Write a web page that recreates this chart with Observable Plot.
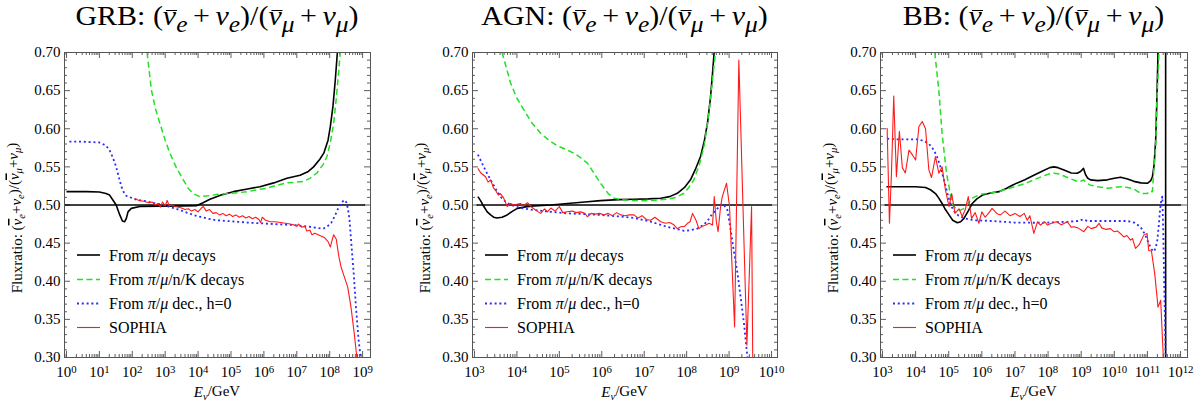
<!DOCTYPE html>
<html><head><meta charset="utf-8">
<script src="https://cdn.jsdelivr.net/npm/d3@7"></script>
<script src="https://cdn.jsdelivr.net/npm/@observablehq/plot@0.6"></script>
<style>
body{margin:0;background:#fff;}
#wrap{position:relative;width:1202px;height:409px;overflow:hidden;font-family:"Liberation Serif",serif;}
.panel{position:absolute;top:0;height:409px;}
.title{position:absolute;top:3px;height:40px;white-space:nowrap;font-size:27px;line-height:27px;text-align:center;color:#000;font-family:"Liberation Serif",serif;transform:scaleX(1.11);transform-origin:50% 50%;}
.title sub{font-size:0.85em;vertical-align:-0.3em;line-height:0;}
.title .op{margin:0 5px;}
.ob{position:relative;}
.ob::before{content:"";position:absolute;left:0.1em;right:-0.04em;top:0.32em;border-top:1.4px solid #000;}
.panel svg{position:absolute;top:42px;left:0;}
</style></head>
<body><div id="wrap"></div>
<script>
// ---- tick values ----
const yTicks = [0.30, 0.35, 0.40, 0.45, 0.50, 0.55, 0.60, 0.65, 0.70];
const grbDecades = [0, 1, 2, 3, 4, 5, 6, 7, 8, 9];
const agnDecades = [3, 4, 5, 6, 7, 8, 9, 10];
const bbDecades = [3, 4, 5, 6, 7, 8, 9, 10, 11, 12];
const panelNames = ["GRB", "AGN", "BB"];
const legendLabels = ["From π/μ decays", "From π/μ/n/K decays", "From π/μ dec., h=0", "SOPHIA"];

// ---- series: [log10(E/GeV), flux ratio] ----
const grbBlack = [[0,0.5175],[0.6,0.5175],[1.0,0.517],[1.1,0.516],[1.2,0.515],[1.31,0.513],[1.41,0.5066],[1.51,0.500],[1.62,0.487],[1.70,0.479],[1.77,0.478],[1.82,0.4825],[1.87,0.491],[1.97,0.4956],[2.23,0.498],[2.84,0.4985],[3.5,0.4988],[3.95,0.499],[4.15,0.503],[4.36,0.5075],[4.7,0.513],[5.07,0.5175],[5.5,0.521],[5.88,0.524],[6.3,0.529],[6.7,0.535],[7.1,0.539],[7.35,0.544],[7.51,0.550],[7.7,0.560],[7.82,0.568],[7.95,0.585],[8.02,0.603],[8.1,0.630],[8.17,0.664],[8.24,0.704],[8.3,0.75]];
const grbGreen = [[2.38,0.75],[2.45,0.70],[2.58,0.651],[2.7,0.627],[2.84,0.607],[3.0,0.585],[3.14,0.568],[3.35,0.548],[3.55,0.533],[3.7,0.522],[3.85,0.515],[4.05,0.511],[4.3,0.512],[4.6,0.514],[4.87,0.515],[5.2,0.516],[5.48,0.5175],[5.8,0.520],[6.09,0.522],[6.4,0.526],[6.7,0.529],[7.0,0.530],[7.2,0.531],[7.4,0.535],[7.61,0.542],[7.8,0.553],[7.92,0.564],[8.02,0.582],[8.12,0.607],[8.2,0.640],[8.27,0.673],[8.32,0.70],[8.38,0.75]];
const grbBlue = [[0.09,0.583],[0.5,0.583],[1.0,0.582],[1.2,0.578],[1.31,0.572],[1.42,0.561],[1.51,0.550],[1.6,0.535],[1.67,0.524],[1.75,0.516],[1.82,0.512],[2.0,0.509],[2.12,0.507],[2.4,0.505],[2.6,0.503],[2.84,0.501],[3.1,0.498],[3.34,0.495],[3.6,0.491],[3.85,0.487],[4.05,0.4846],[4.3,0.482],[4.56,0.480],[4.87,0.479],[5.2,0.478],[5.5,0.477],[5.88,0.476],[6.3,0.475],[6.9,0.4737],[7.3,0.472],[7.6,0.470],[7.8,0.469],[7.92,0.4714],[8.05,0.477],[8.15,0.485],[8.25,0.495],[8.35,0.503],[8.45,0.5066],[8.5,0.504],[8.55,0.496],[8.6,0.482],[8.66,0.448],[8.73,0.41],[8.8,0.365],[8.88,0.322],[8.95,0.298]];
const grbRed = [[2.07,0.509],[2.2,0.506],[2.35,0.505],[2.5,0.503],[2.6,0.504],[2.7,0.500],[2.78,0.502],[2.85,0.497],[2.92,0.504],[3.0,0.499],[3.06,0.506],[3.12,0.499],[3.2,0.500],[3.3,0.498],[3.4,0.497],[3.5,0.496],[3.6,0.494],[3.7,0.495],[3.8,0.492],[3.9,0.494],[4.0,0.491],[4.1,0.496],[4.16,0.498],[4.25,0.492],[4.35,0.494],[4.45,0.489],[4.55,0.490],[4.65,0.487],[4.75,0.489],[4.85,0.486],[4.95,0.488],[5.05,0.485],[5.15,0.487],[5.25,0.484],[5.35,0.486],[5.45,0.483],[5.55,0.485],[5.65,0.482],[5.75,0.484],[5.85,0.481],[5.9,0.477],[5.95,0.484],[6.05,0.480],[6.2,0.478],[6.35,0.478],[6.5,0.477],[6.65,0.476],[6.8,0.475],[6.9,0.474],[7.0,0.472],[7.05,0.475],[7.15,0.471],[7.25,0.472],[7.3,0.466],[7.4,0.467],[7.46,0.461],[7.55,0.463],[7.65,0.461],[7.75,0.459],[7.85,0.457],[7.95,0.452],[8.02,0.445],[8.08,0.455],[8.12,0.461],[8.2,0.455],[8.28,0.432],[8.35,0.418],[8.45,0.405],[8.55,0.392],[8.65,0.365],[8.75,0.33],[8.83,0.298]];

const agnBlack = [[3.08,0.511],[3.15,0.505],[3.22,0.498],[3.3,0.491],[3.38,0.487],[3.45,0.484],[3.53,0.483],[3.65,0.484],[3.77,0.487],[3.9,0.492],[4.01,0.4956],[4.2,0.4975],[4.4,0.4987],[4.8,0.500],[5.19,0.502],[5.6,0.504],[5.97,0.5057],[6.4,0.507],[6.76,0.5075],[7.1,0.508],[7.39,0.5088],[7.6,0.511],[7.78,0.5154],[7.95,0.523],[8.09,0.533],[8.2,0.546],[8.33,0.564],[8.42,0.585],[8.49,0.607],[8.56,0.640],[8.61,0.673],[8.65,0.702],[8.7,0.75]];
const agnGreen = [[3.6,0.75],[3.65,0.70],[3.75,0.68],[3.85,0.66],[4.0,0.64],[4.16,0.625],[4.35,0.608],[4.56,0.594],[4.75,0.585],[4.95,0.5776],[5.15,0.573],[5.34,0.568],[5.5,0.562],[5.66,0.555],[5.8,0.543],[5.97,0.5285],[6.15,0.515],[6.29,0.509],[6.44,0.507],[6.7,0.506],[6.92,0.5057],[7.2,0.506],[7.54,0.5075],[7.75,0.510],[7.94,0.5154],[8.05,0.523],[8.17,0.533],[8.3,0.553],[8.41,0.577],[8.5,0.610],[8.57,0.643],[8.63,0.675],[8.68,0.70],[8.72,0.75]];
const agnBlue = [[3.08,0.566],[3.15,0.558],[3.22,0.550],[3.3,0.541],[3.38,0.533],[3.5,0.521],[3.61,0.511],[3.72,0.505],[3.85,0.500],[4.1,0.496],[4.4,0.4934],[4.8,0.491],[5.19,0.489],[5.6,0.488],[5.97,0.487],[6.4,0.485],[6.76,0.483],[7.1,0.479],[7.54,0.4714],[7.8,0.468],[7.94,0.4662],[8.1,0.467],[8.25,0.469],[8.4,0.474],[8.49,0.479],[8.6,0.488],[8.73,0.4956],[8.82,0.501],[8.88,0.500],[8.96,0.4934],[9.03,0.470],[9.11,0.440],[9.2,0.410],[9.27,0.380],[9.35,0.345],[9.43,0.302],[9.46,0.29]];
const agnRed = [[3.08,0.548],[3.15,0.542],[3.26,0.537],[3.32,0.530],[3.38,0.533],[3.45,0.522],[3.5,0.519],[3.56,0.513],[3.61,0.515],[3.68,0.510],[3.77,0.498],[3.85,0.502],[3.92,0.500],[4.0,0.501],[4.08,0.502],[4.15,0.499],[4.25,0.503],[4.35,0.497],[4.45,0.493],[4.56,0.489],[4.65,0.495],[4.72,0.491],[4.8,0.496],[4.9,0.492],[5.0,0.498],[5.08,0.490],[5.19,0.4912],[5.3,0.492],[5.4,0.490],[5.5,0.491],[5.6,0.489],[5.66,0.4846],[5.75,0.489],[5.85,0.488],[5.95,0.489],[6.05,0.487],[6.15,0.489],[6.25,0.486],[6.35,0.490],[6.45,0.487],[6.55,0.486],[6.65,0.487],[6.76,0.487],[6.85,0.483],[6.95,0.486],[7.05,0.481],[7.15,0.480],[7.25,0.484],[7.39,0.478],[7.5,0.476],[7.6,0.477],[7.7,0.474],[7.78,0.469],[7.86,0.4714],[7.95,0.472],[8.02,0.476],[8.08,0.478],[8.14,0.489],[8.22,0.480],[8.29,0.469],[8.37,0.472],[8.45,0.4737],[8.53,0.476],[8.61,0.4737],[8.65,0.511],[8.7,0.478],[8.74,0.465],[8.8,0.498],[8.84,0.511],[8.94,0.5285],[9.01,0.498],[9.13,0.340],[9.23,0.690],[9.42,0.316],[9.53,0.498],[9.56,0.28]];

const bbBlack = [[3.12,0.524],[3.5,0.524],[4.0,0.524],[4.3,0.523],[4.45,0.520],[4.6,0.515],[4.7,0.509],[4.8,0.502],[4.9,0.494],[5.01,0.487],[5.12,0.480],[5.26,0.4767],[5.36,0.478],[5.46,0.4825],[5.6,0.493],[5.71,0.502],[5.85,0.508],[6.02,0.513],[6.3,0.516],[6.52,0.5175],[6.75,0.522],[6.92,0.526],[7.07,0.529],[7.3,0.533],[7.57,0.539],[7.85,0.545],[8.05,0.549],[8.18,0.550],[8.3,0.549],[8.48,0.546],[8.7,0.542],[8.88,0.5417],[8.98,0.544],[9.07,0.548],[9.13,0.540],[9.2,0.535],[9.28,0.533],[9.5,0.532],[9.79,0.533],[10.0,0.535],[10.19,0.5365],[10.4,0.534],[10.59,0.531],[10.8,0.529],[11.0,0.5285],[11.1,0.532],[11.15,0.537],[11.2,0.552],[11.25,0.5855],[11.28,0.630],[11.32,0.700],[11.35,0.760],[11.55,5],[11.55,-5]];
const bbGreen = [[4.55,0.75],[4.58,0.70],[4.64,0.675],[4.70,0.651],[4.75,0.622],[4.80,0.594],[4.86,0.570],[4.91,0.5505],[4.96,0.535],[5.01,0.524],[5.06,0.511],[5.11,0.502],[5.16,0.498],[5.21,0.4956],[5.28,0.4934],[5.36,0.4934],[5.44,0.495],[5.51,0.498],[5.6,0.503],[5.71,0.509],[5.85,0.512],[6.02,0.5145],[6.3,0.516],[6.52,0.5175],[6.75,0.521],[7.07,0.525],[7.3,0.528],[7.57,0.533],[7.85,0.538],[8.05,0.541],[8.18,0.5417],[8.3,0.541],[8.48,0.538],[8.7,0.534],[8.88,0.531],[8.98,0.531],[9.07,0.533],[9.15,0.529],[9.28,0.526],[9.5,0.524],[9.79,0.522],[10.0,0.523],[10.19,0.524],[10.4,0.523],[10.59,0.521],[10.8,0.515],[11.0,0.515],[11.05,0.518],[11.15,0.5175],[11.2,0.550],[11.25,0.575],[11.28,0.630],[11.32,0.670],[11.35,0.700],[11.38,0.75]];
const bbBlue = [[3.14,0.587],[3.5,0.586],[4.1,0.586],[4.3,0.583],[4.45,0.578],[4.55,0.572],[4.65,0.563],[4.75,0.550],[4.83,0.537],[4.91,0.524],[4.98,0.512],[5.05,0.502],[5.13,0.494],[5.21,0.489],[5.3,0.486],[5.41,0.4838],[5.6,0.481],[5.81,0.480],[6.31,0.479],[6.98,0.477],[7.57,0.4767],[8.0,0.477],[8.58,0.478],[8.9,0.479],[9.05,0.481],[9.2,0.479],[9.6,0.479],[10.19,0.479],[10.39,0.479],[10.6,0.477],[10.79,0.4714],[10.92,0.462],[11.04,0.4496],[11.12,0.442],[11.2,0.439],[11.25,0.444],[11.30,0.454],[11.34,0.472],[11.38,0.4934],[11.42,0.507],[11.45,0.511],[11.48,0.460],[11.5,0.410],[11.53,0.350],[11.55,0.300],[11.56,0.28]];
const bbRed = [[3.14,0.601],[3.21,0.476],[3.27,0.540],[3.34,0.643],[3.42,0.537],[3.51,0.5965],[3.6,0.549],[3.69,0.542],[3.80,0.572],[3.9,0.566],[4.0,0.559],[4.10,0.603],[4.20,0.6096],[4.30,0.600],[4.40,0.546],[4.48,0.536],[4.60,0.5636],[4.70,0.5417],[4.80,0.550],[4.90,0.520],[5.01,0.498],[5.09,0.515],[5.19,0.489],[5.31,0.495],[5.41,0.485],[5.5,0.494],[5.59,0.511],[5.69,0.4825],[5.8,0.490],[5.91,0.476],[6.0,0.491],[6.1,0.484],[6.2,0.489],[6.31,0.4956],[6.45,0.489],[6.56,0.487],[6.7,0.492],[6.85,0.486],[7.0,0.489],[7.15,0.485],[7.28,0.489],[7.37,0.480],[7.45,0.486],[7.57,0.4627],[7.68,0.478],[7.77,0.4737],[7.9,0.478],[7.98,0.4737],[8.1,0.476],[8.25,0.478],[8.4,0.474],[8.58,0.478],[8.7,0.471],[8.78,0.4714],[8.9,0.470],[9.08,0.465],[9.2,0.472],[9.3,0.469],[9.45,0.471],[9.54,0.476],[9.62,0.470],[9.75,0.468],[9.88,0.469],[9.99,0.465],[10.09,0.466],[10.2,0.462],[10.29,0.458],[10.38,0.460],[10.49,0.454],[10.55,0.456],[10.64,0.443],[10.75,0.448],[10.89,0.4605],[10.99,0.4627],[11.04,0.440],[11.12,0.440],[11.22,0.410],[11.32,0.366],[11.40,0.375],[11.48,0.300],[11.5,0.28]];

// ---- styles ----
const styles = [
  {stroke: "#000", strokeWidth: 1.6},
  {stroke: "#22e022", strokeWidth: 1.5, strokeDasharray: "6,3.5"},
  {stroke: "#2a2aff", strokeWidth: 1.8, strokeDasharray: "2,2.8"},
  {stroke: "#ff1a1a", strokeWidth: 1.1}
];

const panels = [
  {name: panelNames[0], left: 0, width: 400, ml: 64, mr: 30, dom: [-0.06, 9.24], decades: grbDecades, hline: [-0.06, 9.09], series: [grbBlack, grbGreen, grbBlue, grbRed]},
  {name: panelNames[1], left: 400, width: 400, ml: 72, mr: 23, dom: [2.953, 10.141], decades: agnDecades, hline: [3.06, 10.02], series: [agnBlack, agnGreen, agnBlue, agnRed]},
  {name: panelNames[2], left: 800, width: 402, ml: 80, mr: 15, dom: [2.94, 12.21], decades: bbDecades, hline: [3.08, 12.03], series: [bbBlack, bbGreen, bbBlue, bbRed]}
];

const H = 367, MT = 10, MB = 52;
const FF = "'Liberation Serif', 'Times New Roman', serif";
const wrap = document.getElementById("wrap");

function addRich(sel, parts) {
  let shift = 0;
  for (const [t, o = {}] of parts) {
    const target = o.sub ? 0.28 : 0;
    const ts = sel.append("tspan").text(t);
    if (target !== shift) { ts.attr("dy", (target - shift) + "em"); }
    shift = target;
    if (o.sub) ts.attr("font-size", "0.7em");
    if (o.it) ts.attr("font-style", "italic");
    if (o.ob) ts.attr("text-decoration", "overline");
  }
}

for (const p of panels) {
  const pw = p.width - p.ml - p.mr, ph = H - MT - MB;
  const ppd = pw / (p.dom[1] - p.dom[0]);
  const X = v => 10 ** v;
  const majX = p.decades.map(X);
  const minX = [];
  for (let n = Math.floor(p.dom[0]); n <= Math.ceil(p.dom[1]); n++)
    for (let k = 2; k <= 9; k++) { const lv = n + Math.log10(k); if (lv > p.dom[0] && lv < p.dom[1]) minX.push(10 ** lv); }
  const minY = d3.range(31, 70).filter(i => i % 5).map(i => i / 100);
  const yl = px => 0.4 * px / ph;
  const xl0 = px => 10 ** (p.dom[0] + px / ppd);
  const xl1 = px => 10 ** (p.dom[1] - px / ppd);
  const tk = {stroke: "#333", strokeWidth: 0.8};
  const xmin = X(p.dom[0]), xmax = X(p.dom[1]);

  const marks = [
    Plot.ruleX(majX, {x: d => d, y1: 0.3, y2: 0.3 + yl(6), ...tk}),
    Plot.ruleX(majX, {x: d => d, y1: 0.7 - yl(6), y2: 0.7, ...tk}),
    Plot.ruleX(minX, {x: d => d, y1: 0.3, y2: 0.3 + yl(3), ...tk}),
    Plot.ruleX(minX, {x: d => d, y1: 0.7 - yl(3), y2: 0.7, ...tk}),
    Plot.ruleY(yTicks, {y: d => d, x1: xmin, x2: xl0(6), ...tk}),
    Plot.ruleY(yTicks, {y: d => d, x1: xl1(6), x2: xmax, ...tk}),
    Plot.ruleY(minY, {y: d => d, x1: xmin, x2: xl0(3), ...tk}),
    Plot.ruleY(minY, {y: d => d, x1: xl1(3), x2: xmax, ...tk}),
    Plot.ruleY([0.5], {x1: X(p.hline[0]), x2: X(p.hline[1]), stroke: "#000", strokeWidth: 1.4}),
    ...p.series.map((s, i) => Plot.line(s, {x: d => 10 ** d[0], y: d => d[1], clip: true, strokeLinecap: "butt", strokeLinejoin: "round", ...styles[i]})),
    Plot.frame({stroke: "#555", strokeWidth: 1}),
    Plot.axisX(majX, {tickSize: 0, tickPadding: 9, fontSize: 15, fontFamily: FF, tickFormat: d => "10^" + Math.round(Math.log10(d))}),
    Plot.axisY(yTicks, {tickSize: 0, tickPadding: 4, fontSize: 15, fontFamily: FF, tickFormat: d => d.toFixed(2)})
  ];

  const chart = Plot.plot({
    width: p.width, height: H, marginTop: MT, marginBottom: MB, marginLeft: p.ml, marginRight: p.mr,
    x: {type: "log", domain: [xmin, xmax], label: null},
    y: {domain: [0.3, 0.7], label: null},
    style: {fontFamily: FF, fontSize: "15px", color: "#000", background: "transparent", overflow: "visible"},
    marks
  });
  chart.setAttribute("font-family", FF);

  const div = document.createElement("div");
  div.className = "panel";
  div.style.left = p.left + "px";
  div.style.width = p.width + "px";
  const title = document.createElement("div");
  title.className = "title";
  title.style.left = (p.ml - 20) + "px";
  title.style.width = (pw + 40) + "px";
  title.innerHTML = `${p.name}: (<i><span class="ob">ν</span><sub>e</sub></i><span class="op">+</span><i>ν<sub>e</sub></i>)/(<i><span class="ob">ν</span><sub>μ</sub></i><span class="op">+</span><i>ν<sub>μ</sub></i>)`;
  div.appendChild(title);
  div.appendChild(chart);
  wrap.appendChild(div);

  const svg = d3.select(chart);
  svg.selectAll('g[aria-label="x-axis tick label"] text').each(function () {
    const t = d3.select(this);
    const s = t.text();
    if (s.startsWith("10^")) {
      const e = s.slice(3);
      t.text("10");
      t.append("tspan").attr("dy", "-0.42em").attr("font-size", "0.72em").text(e);
    }
  });

  const xt = svg.append("text").attr("x", p.ml + pw / 2).attr("y", 355).attr("text-anchor", "middle")
    .attr("font-family", FF).attr("font-size", 15).attr("fill", "#000");
  addRich(xt, [["E", {it: true}], ["ν", {it: true, sub: true}], ["/GeV"]]);

  const ytx = svg.append("text").attr("transform", `translate(${p.ml - 42},176) rotate(-90)`).attr("text-anchor", "middle")
    .attr("font-family", FF).attr("font-size", 15).attr("fill", "#000");
  addRich(ytx, [["Fluxratio: ("], ["ν", {it: true, ob: true}], ["e", {it: true, sub: true}], ["+"], ["ν", {it: true}], ["e", {it: true, sub: true}],
    [")/("], ["ν", {it: true, ob: true}], ["μ", {it: true, sub: true}], ["+"], ["ν", {it: true}], ["μ", {it: true, sub: true}], [")"]]);

  const rows = [213, 237.5, 261.5, 285.5];
  const lg = svg.append("g").attr("font-family", FF).attr("font-size", 16).attr("text-anchor", "start");
  legendLabels.forEach((lab, i) => {
    const st = styles[i];
    lg.append("line").attr("x1", p.ml + 13).attr("x2", p.ml + 36).attr("y1", rows[i]).attr("y2", rows[i])
      .attr("stroke", st.stroke).attr("stroke-width", st.strokeWidth).attr("stroke-dasharray", st.strokeDasharray || null);
    const t = lg.append("text").attr("x", p.ml + 45).attr("y", rows[i]).attr("dy", "0.35em").attr("fill", "#000").attr("text-anchor", "start");
    const parts = [];
    lab.split(/([πμ])/).forEach(s => { if (s) parts.push([s, (s === "π" || s === "μ") ? {it: true} : {}]); });
    addRich(t, parts);
  });
}
</script>
</body></html>
